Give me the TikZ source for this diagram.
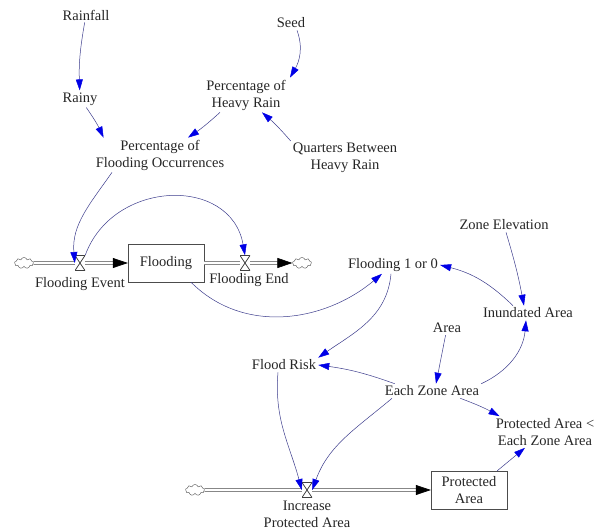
\documentclass[tikz,border=0pt]{standalone}
\usepackage{fontspec}
\setmainfont{Liberation Serif}
\usetikzlibrary{arrows.meta,shapes.symbols}
\definecolor{linkcolor}{RGB}{60,60,140}
\definecolor{tipcolor}{RGB}{0,0,230}
\definecolor{pipecolor}{RGB}{70,70,70}

\begin{document}
\begin{tikzpicture}[x=1pt, y=-1pt,
    font=\fontsize{14.5}{17}\selectfont, inner sep=2pt, text=black!85,
    level/.style={draw=black!70, minimum width=76pt, minimum height=38pt, align=center},
    cloudy/.style={cloud, cloud puffs=9, aspect=1.7, draw=black!70, minimum width=19pt, minimum height=11pt, inner sep=0pt},
    valve/.style={fill=white, minimum width=10pt, minimum height=15pt, inner sep=0pt,
        path picture={\draw[black!75, line width=0.7pt] (path picture bounding box.north west) -- (path picture bounding box.south east) -- (path picture bounding box.south west) -- (path picture bounding box.north east) -- cycle;}},
    pipe/.style={draw=pipecolor, line width=0.6pt, double=white, double distance=2.6pt, -{Triangle[length=15pt,width=10pt,color=black]}},
    link/.style={draw=linkcolor, line width=0.5pt, -{Triangle[length=11pt,width=7pt,color=tipcolor]}}]
            \useasboundingbox (0,0) rectangle (606,530);

            % Rain inputs
            \node (rainfall) at (86,15) {Rainfall};
            \node (seed) at (291,23) {Seed};
            \node (rainy) at (80,99) {Rainy};
            \node[align=center] (heavyrain) at (246,95) {Percentage of\\Heavy Rain};
            \node[align=center] (occurrences) at (160,155) {Percentage of\\Flooding Occurrences};
            \node[align=center] (quarters) at (345,158) {Quarters Between\\Heavy Rain};

            % Flooding stock
            \node[cloudy] (cloud1) at (24,263) {};
            \node[level] (flooding) at (166,263) {Flooding};
            \node[cloudy] (cloud2) at (302,263) {};
            \draw[pipe] (cloud1) -- (flooding);
            \draw[pipe] (flooding) -- (cloud2);
            \node[valve] (event) at (80,263) {};
            \node[valve] (floodend) at (245,263) {};
            \node (eventlabel) at (80,284) {Flooding Event};
            \node (endlabel) at (249,280) {Flooding End};

            % Zones
            \node (flood10) at (393,265) {Flooding 1 or 0};
            \node (zone) at (504,225) {Zone Elevation};
            \node (inundated) at (528,313) {Inundated Area};
            \node (area) at (447,328) {Area};
            \node (floodrisk) at (284,365) {Flood Risk};
            \node (eachzone) at (432,391) {Each Zone Area};
            \node[align=center] (protcheck) at (545,432) {Protected Area <\\Each Zone Area};

            % Protected area stock
            \node[cloudy] (cloud3) at (195,490) {};
            \node[level] (protected) at (469,490) {Protected\\Area};
            \draw[pipe] (cloud3) -- (protected);
            \node[valve] (increase) at (307,490) {};
            \node[align=center] (increaselabel) at (307,514) {Increase\\Protected Area};

            % Links
            \draw[link] (rainfall) to[out=-100, in=92] (rainy);
            \draw[link] (rainy) to[bend left=5] ([xshift=10pt]occurrences.north west);
            \draw[link] ([xshift=6pt]seed.south) to[out=-70, in=60] ([xshift=44pt]heavyrain.north);
            \draw[link] ([xshift=-26pt]heavyrain.south) to[bend left=4] ([xshift=28pt]occurrences.north);
            \draw[link] (quarters.north west) to[bend right=4] ([xshift=16pt]heavyrain.south);
            \draw[link] ([xshift=-48pt]occurrences.south) to[out=-125, in=95] (event.west);
            \draw[link] (event.north east) to[out=70, in=100, looseness=1.3] (floodend.north);
            \draw[link] ([xshift=25pt]flooding.south) to[out=-45, in=-140] ([xshift=-11pt]flood10.south);
            \draw[link] ([xshift=-2pt]flood10.south) to[out=-95, in=35] (floodrisk.north east);
            \draw[link] ([xshift=-15pt]inundated.north) to[bend right=15] (flood10.east);
            \draw[link] ([xshift=2pt]zone.south) to[bend left=3] ([xshift=-4pt]inundated.north);
            \draw[link] (area) -- ([xshift=4pt]eachzone.north);
            \draw[link] ([xshift=12pt]eachzone.north west) to[bend right=6] (floodrisk.east);
            \draw[link] (eachzone.north east) to[out=25, in=-95] ([xshift=-2pt]inundated.south);
            \draw[link] ([xshift=-21pt]eachzone.south east) to[bend left=4] ([xshift=6pt]protcheck.north west);
            \draw[link] ([xshift=-40pt]eachzone.south) to[out=-140, in=70] (increase.east);
            \draw[link] ([xshift=-6pt]floodrisk.south) to[out=-95, in=105] (increase.west);
            \draw[link] ([xshift=-10pt]protected.north east) -- ([xshift=-20pt]protcheck.south);
        \end{tikzpicture}
\end{document}
